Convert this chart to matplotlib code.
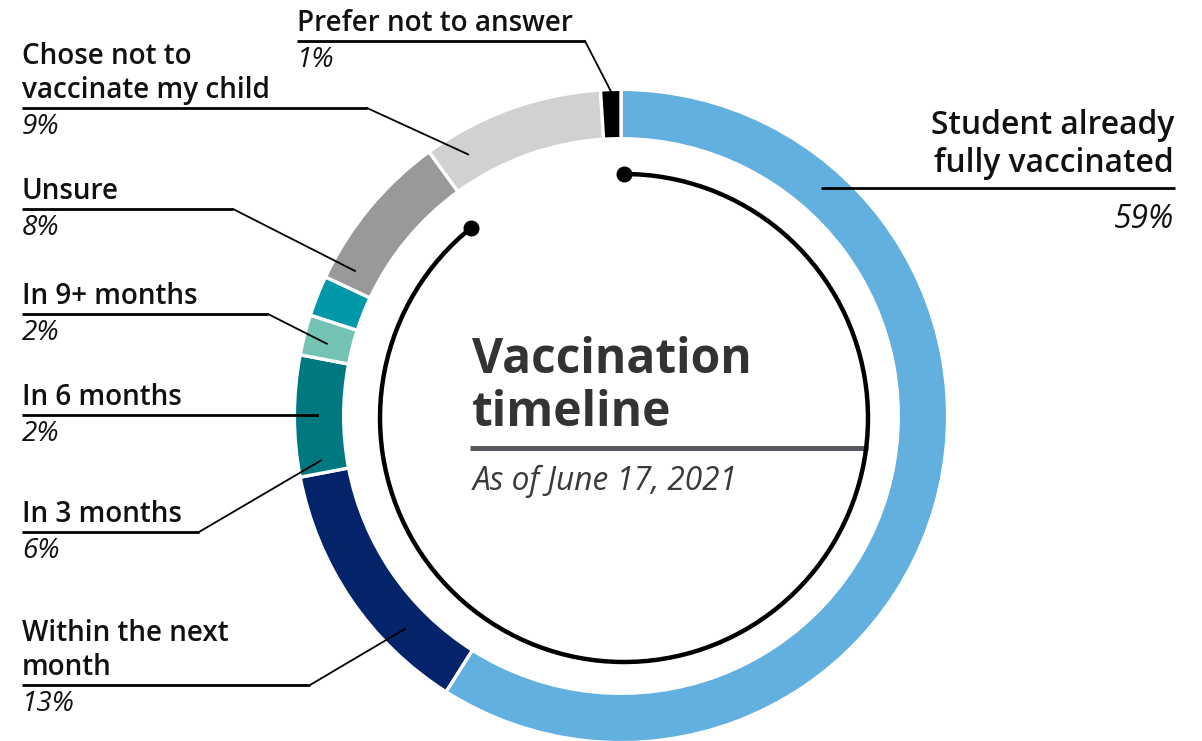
import numpy as np
import matplotlib.pyplot as plt
from matplotlib.patches import Arc

plt.rcParams['font.family'] = ['Open Sans', 'DejaVu Sans']

# survey answers, clockwise from 12 o'clock
answers = ["Student already\nfully vaccinated", "Within the next\nmonth", "In 3 months",
           "In 6 months", "In 9+ months", "Unsure", "Chose not to\nvaccinate my child",
           "Prefer not to answer"]
shares = [59, 13, 6, 2, 2, 8, 9, 1]
colors = ["#62b0e0", "#03236a", "#00787f", "#74c3b5", "#0098a9", "#98999b", "#d1d1d0", "#000000"]

# callout placement (angles clockwise from top, pixel positions)
leader_angle = [41.2, 225.4, 261.6, 270.0, 283.8, 298.6, 329.7, 358.2]
leader_r = [303, 303, 303, 303, 303, 303, 303, 325]
rule_y = [188, 685, 532, 415, 314, 209, 108, 41]
elbow_x = [None, 310, 199, None, 268, 233, 367, 585]
text_x = [1174, 22, 22, 22, 22, 22, 22, 297]

W, H = 1202, 741
cx, cy = 621, 416

fig = plt.figure(figsize=(W / 100, H / 100), dpi=100)
ax = fig.add_axes([0, 0, 1, 1])

# donut ring (y axis is flipped, so counterclock=True runs clockwise on screen)
ax.pie(shares, colors=colors, radius=326.6, center=(cx, cy), startangle=-90,
       counterclock=True, wedgeprops=dict(width=49.3, edgecolor='white', linewidth=2.4))
ax.set_xlim(0, W)
ax.set_ylim(H, 0)
ax.set_aspect('equal')
ax.axis('off')

# inner timeline arc with end dots
acx, acy, ar = 624, 418, 244
arc_end = 321.3
ax.add_patch(Arc((acx, acy), 2 * ar, 2 * ar, theta1=-90, theta2=arc_end - 90,
                 color='black', lw=3.2, zorder=3))
for a in (0, arc_end):
    t = np.radians(a)
    ax.plot(acx + ar * np.sin(t), acy - ar * np.cos(t), 'o', color='black', ms=10.5, zorder=4)

# title block
ax.plot([470, 868], [448, 448], color='#56595e', lw=3.6, solid_capstyle='butt', zorder=2)
ax.text(472, 373, "Vaccination", fontsize=34.5, fontweight='bold', color='#333333', va='baseline')
ax.text(472, 426, "timeline", fontsize=34.5, fontweight='bold', color='#333333', va='baseline')
ax.text(473, 490, "As of June 17, 2021", fontsize=22.8, style='italic', color='#3a3a3a', va='baseline')

# callouts
for i, name in enumerate(answers):
    t = np.radians(leader_angle[i])
    px = cx + leader_r[i] * np.sin(t)
    py = cy - leader_r[i] * np.cos(t)
    uy = rule_y[i]
    ex = px if elbow_x[i] is None else elbow_x[i]
    right = i == 0
    if right:
        size, gap, lh, pgap = 22.9, 16, 38, 40
        ax.plot([ex, text_x[i] + 1], [uy, uy], color='black', lw=2, solid_capstyle='butt')
        ha = 'right'
    else:
        size, gap, lh, pgap = 20.1, 10, 34, 26
        ax.plot([text_x[i], ex], [uy, uy], color='black', lw=2, solid_capstyle='butt')
        ax.plot([ex, px], [uy, py], color='black', lw=1.3)
        ha = 'left'
    lines = name.split("\n")
    for j, line in enumerate(reversed(lines)):
        ax.text(text_x[i], uy - gap - j * lh, line, fontsize=size, fontweight='semibold',
                color='#111111', ha=ha, va='baseline')
    ax.text(text_x[i], uy + pgap, f"{shares[i]}%", fontsize=size, style='italic',
            color='#111111', ha=ha, va='baseline')

fig.savefig("out.png", dpi=100)
